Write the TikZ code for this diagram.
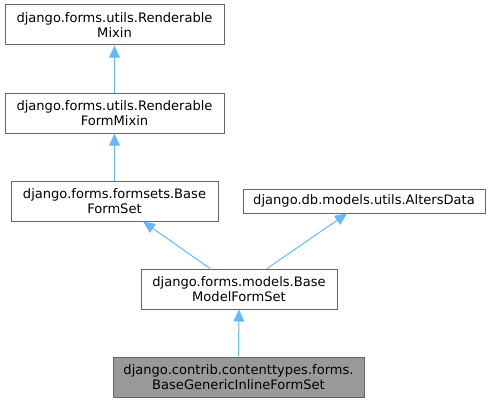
\documentclass[tikz,border=0pt]{standalone}
\usepackage{fontspec}
\setmainfont{DejaVu Sans}
\usetikzlibrary{arrows.meta}
\definecolor{edgeblue}{HTML}{63B8FF}
\definecolor{boxborder}{HTML}{666666}
\definecolor{boxfill}{HTML}{999999}
\tikzset{
  cls/.style={draw=boxborder, line width=0.75pt, fill=white, rectangle, align=center, inner sep=0pt,
    font=\fontsize{9.8}{11.25}\selectfont},
  clsgray/.style={cls, fill=boxfill},
  inh/.style={draw=edgeblue, line width=0.75pt, -{Triangle[length=9pt,width=8pt,fill=edgeblue]}}
}
\begin{document}
\begin{tikzpicture}[x=0.75pt,y=-0.75pt]
\useasboundingbox (0,0) rectangle (491,403);
\node[cls, minimum width=164.25pt, minimum height=30pt] (rm) at (114.5,25) {django.forms.utils.Renderable\\Mixin};
\node[cls, minimum width=164.25pt, minimum height=30pt] (rfm) at (114.5,113) {django.forms.utils.Renderable\\FormMixin};
\node[cls, minimum width=155.25pt, minimum height=30pt] (bfs) at (114.5,201) {django.forms.formsets.Base\\FormSet};
\node[cls, minimum width=181.5pt, minimum height=18pt] (ad) at (364,201) {django.db.models.utils.AltersData};
\node[cls, minimum width=147pt, minimum height=30pt] (bmfs) at (239,289) {django.forms.models.Base\\ModelFormSet};
\node[clsgray, minimum width=188.25pt, minimum height=30pt] (bgifs) at (238.5,377) {django.contrib.contenttypes.forms.\\BaseGenericInlineFormSet};
\draw[inh] (rfm.north) -- (rm.south);
\draw[inh] (bfs.north) -- (rfm.south);
\draw[inh] ([xshift=-21.75pt]bmfs.north) -- ([xshift=21.4pt]bfs.south);
\draw[inh] ([xshift=21pt]bmfs.north) -- ([xshift=-12.75pt]ad.south);
\draw[inh] (bgifs.north) -- (bmfs.south);
\end{tikzpicture}
\end{document}
